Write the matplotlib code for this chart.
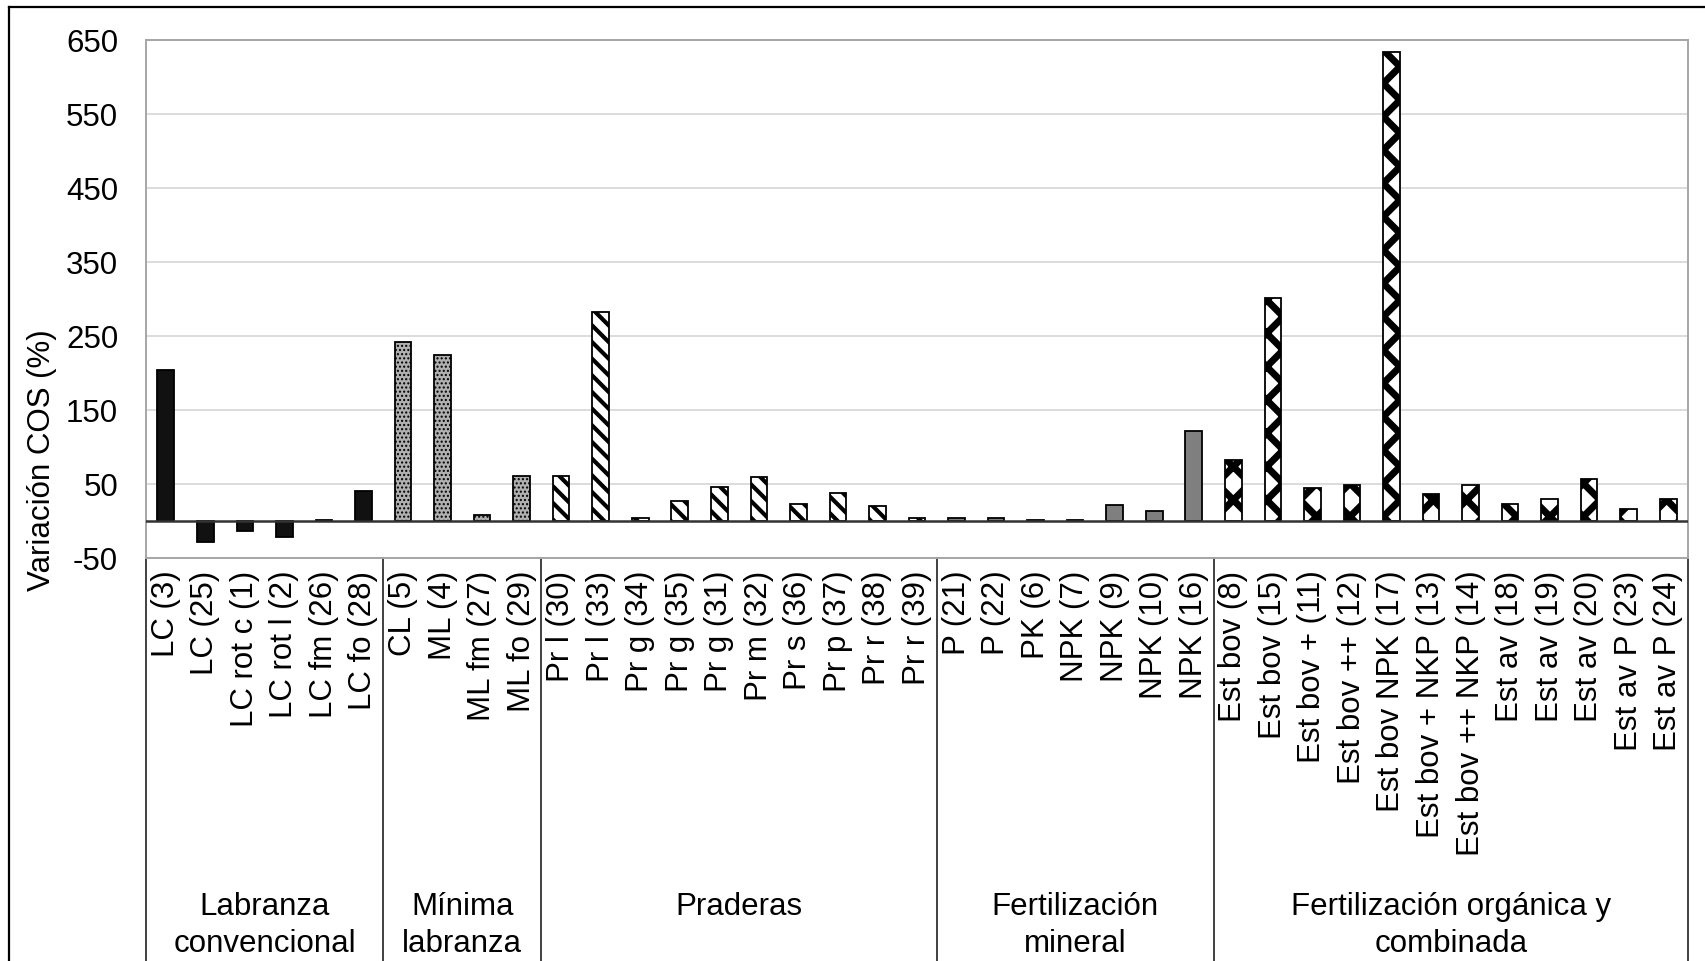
import matplotlib
matplotlib.use('Agg')
import matplotlib.pyplot as plt
from matplotlib.lines import Line2D

plt.rcParams['font.family'] = ['Liberation Sans', 'DejaVu Sans']
plt.rcParams['axes.unicode_minus'] = False

# group names (second level of the category axis)
groups = ['Labranza\nconvencional', 'Mínima\nlabranza', 'Praderas',
          'Fertilización\nmineral', 'Fertilización orgánica y\ncombinada']

# treatments and SOC change (%) per group
lab_conv = ['LC (3)', 'LC (25)', 'LC rot c (1)', 'LC rot l (2)', 'LC fm (26)', 'LC fo (28)']
lab_conv_val = [204, -29, -14, -21, 2, 41]

min_lab = ['CL (5)', 'ML (4)', 'ML fm (27)', 'ML fo (29)']
min_lab_val = [242, 225, 8, 61]

praderas = ['Pr l (30)', 'Pr l (33)', 'Pr g (34)', 'Pr g (35)', 'Pr g (31)',
            'Pr m (32)', 'Pr s (36)', 'Pr p (37)', 'Pr r (38)', 'Pr r (39)']
praderas_val = [61, 283, 4, 27, 46, 59, 23, 38, 20, 4]

fert_min = ['P (21)', 'P (22)', 'PK (6)', 'NPK (7)', 'NPK (9)', 'NPK (10)', 'NPK (16)']
fert_min_val = [3.5, 3.5, 1.5, 1.5, 21, 14, 121]

fert_org = ['Est bov (8)', 'Est bov (15)', 'Est bov + (11)', 'Est bov ++ (12)',
            'Est bov NPK (17)', 'Est bov + NKP (13)', 'Est bov ++ NKP (14)',
            'Est av (18)', 'Est av (19)', 'Est av (20)', 'Est av P (23)', 'Est av P (24)']
fert_org_val = [82, 302, 44, 49, 634, 36, 49, 23, 30, 57, 16, 30]

yticks = [-50, 50, 150, 250, 350, 450, 550, 650]

group_labels = [lab_conv, min_lab, praderas, fert_min, fert_org]
group_vals = [lab_conv_val, min_lab_val, praderas_val, fert_min_val, fert_org_val]

# fill style per group: facecolor, hatch, hatch linewidth
styles = [('#111111', None, 1.0),
          ('#b0b0b0', '....', 1.0),
          ('white', '\\\\', 3.0),
          ('#7f7f7f', None, 1.0),
          ('white', 'x', 5.0)]

FS = 22.5
W, H = 1706, 961
fig = plt.figure(figsize=(W / 100, H / 100), dpi=100)
ax = fig.add_axes([146 / W, 1 - 558 / H, (1688 - 146) / W, (558 - 40) / H])

labels = []
pos = 0
bounds = [-0.5]
for lbls, vals, (fc, hatch, hlw) in zip(group_labels, group_vals, styles):
    xs = list(range(pos, pos + len(vals)))
    with plt.rc_context({'hatch.linewidth': hlw}):
        bars = ax.bar(xs, vals, width=0.42, color=fc, edgecolor='black',
                      linewidth=1.3, hatch=hatch, zorder=3)
    for b in bars:
        try:
            b.set_hatch_linewidth(hlw)
        except AttributeError:
            pass
    labels += lbls
    pos += len(vals)
    bounds.append(pos - 0.5)

ax.set_xlim(-0.5, pos - 0.5)
ax.set_ylim(-50, 650)
ax.set_yticks(yticks)
ax.set_xticks(range(pos))
ax.set_xticklabels(labels, rotation=90, fontsize=FS, va='top')
ax.tick_params(axis='y', length=0, pad=20, labelsize=FS)
ax.tick_params(axis='x', length=0, pad=9)
ax.grid(axis='y', color='#d9d9d9', lw=1.3, zorder=0)
ax.axhline(0, color='#333333', lw=1.8, zorder=4)
for s in ax.spines.values():
    s.set_color('#a6a6a6')
    s.set_linewidth(1.4)

# category table lines below the plot
trans = ax.get_xaxis_transform()
ybot = -(H - 558) / (558 - 40)
for b in bounds:
    ax.plot([b, b], [0, ybot], color='#404040', lw=1.4, transform=trans, clip_on=False)

# group names
ytxt = -(892 - 558) / (558 - 40)
for g, a, b in zip(groups, bounds[:-1], bounds[1:]):
    ax.text((a + b) / 2, ytxt, g, transform=trans, ha='center', va='top',
            fontsize=FS, linespacing=1.3)

fig.text(42 / W, 1 - 460 / H, 'Variación COS (%)', rotation=90, ha='center',
         va='center', fontsize=FS)

# outer frame (left and top only, image is cropped)
fig.add_artist(Line2D([9 / W, 9 / W], [0, 1 - 7 / H], color='black', lw=1.6,
                      transform=fig.transFigure))
fig.add_artist(Line2D([9 / W, 1], [1 - 7 / H, 1 - 7 / H], color='black', lw=1.6,
                      transform=fig.transFigure))

fig.savefig('out.png', dpi=100, facecolor='white')
